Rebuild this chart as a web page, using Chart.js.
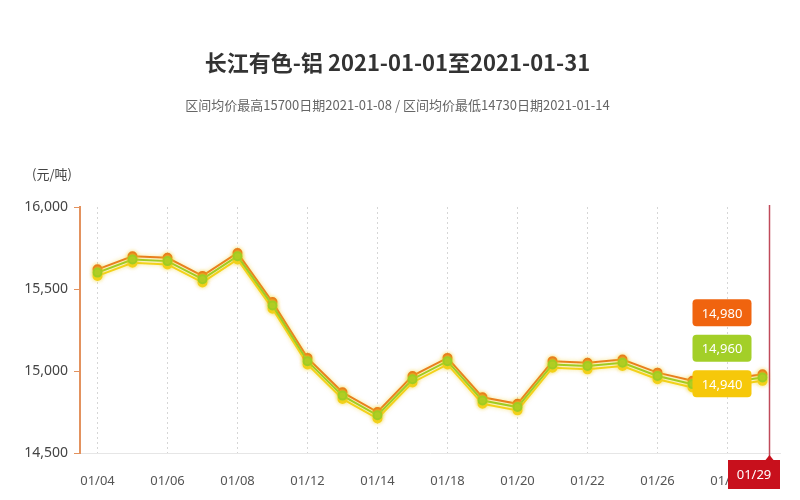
<!DOCTYPE html>
<html>
<head>
<meta charset="utf-8">
<script src="https://cdn.jsdelivr.net/npm/chart.js@4/dist/chart.umd.min.js"></script>
<style>
  html, body { margin: 0; padding: 0; background: #fff; }
  #wrap { width: 800px; height: 500px; }
</style>
</head>
<body>
<div id="wrap"><canvas id="AluminiumChart"></canvas></div>
<script>
const days = ['01/04', '01/05', '01/06', '01/07', '01/08', '01/11', '01/12', '01/13', '01/14', '01/15',
  '01/18', '01/19', '01/20', '01/21', '01/22', '01/25', '01/26', '01/27', '01/28', '01/29']
const highPrice = [15620, 15700, 15690, 15580, 15720, 15420, 15080, 14870, 14750, 14970,
  15080, 14840, 14800, 15060, 15050, 15070, 14990, 14940, 14950, 14980]
const avgPrice = [15600, 15680, 15670, 15560, 15700, 15400, 15060, 14850, 14730, 14950,
  15060, 14820, 14780, 15040, 15030, 15050, 14970, 14920, 14930, 14960]
const lowPrice = [15580, 15660, 15650, 15540, 15680, 15380, 15040, 14830, 14710, 14930,
  15040, 14800, 14760, 15020, 15010, 15030, 14950, 14900, 14910, 14940]
const yTicks = [14500, 15000, 15500, 16000]

const font = '"Noto Sans", "Noto Sans CJK SC", sans-serif'
const cjkFont = '"Noto Sans CJK SC", "Noto Sans", sans-serif'

// crosshair + value tags on the last trading day
const overlayPlugin = {
  id: 'overlay',
  beforeDatasetsDraw(chart) {
    const ctx = chart.ctx
    ctx.save()
    ctx.shadowColor = 'rgba(240, 210, 40, 0.6)'
    ctx.shadowBlur = 4
  },
  afterDatasetsDraw(chart) {
    chart.ctx.restore()
  },
  afterDraw(chart) {
    const ctx = chart.ctx
    const area = chart.chartArea
    const x = chart.scales.x
    const y = chart.scales.y
    const last = days.length - 1
    const px = x.getPixelForValue(last)

    ctx.save()
    // unit
    ctx.fillStyle = '#444'
    ctx.font = '13px ' + cjkFont
    ctx.textAlign = 'left'
    ctx.textBaseline = 'middle'
    ctx.fillText('(元/吨)', 32, area.top - 33)

    // vertical crosshair
    ctx.strokeStyle = '#c04a5a'
    ctx.lineWidth = 1.5
    ctx.beginPath()
    ctx.moveTo(px + 7, area.top - 2)
    ctx.lineTo(px + 7, area.bottom + 4)
    ctx.stroke()

    // value tags
    const tags = [
      { v: highPrice[last], bg: '#f0640f' },
      { v: avgPrice[last], bg: '#a3cf28' },
      { v: lowPrice[last], bg: '#f6c80a' }
    ]
    const baseY = y.getPixelForValue(lowPrice[last]) + 3
    ctx.font = '13px ' + font
    ctx.textAlign = 'center'
    tags.forEach((t, i) => {
      const cy = baseY - (2 - i) * 35.5
      const w = 59, h = 27
      const bx = px - 70
      ctx.fillStyle = t.bg
      ctx.beginPath()
      ctx.roundRect(bx, cy - h / 2, w, h, 4)
      ctx.fill()
      ctx.fillStyle = '#fff'
      ctx.fillText(t.v.toLocaleString('en-US'), bx + w / 2, cy + 1)
    })

    // date tag at the bottom
    const dw = 52, dh = 29
    const dx = Math.min(px + 7 + dw / 2, area.right) - dw
    const dy = area.bottom + 7
    ctx.fillStyle = '#c8101c'
    ctx.beginPath()
    ctx.moveTo(px + 3, dy)
    ctx.lineTo(px + 7, dy - 5)
    ctx.lineTo(px + 11, dy)
    ctx.fill()
    ctx.fillRect(dx, dy, dw, dh)
    ctx.fillStyle = '#fff'
    ctx.fillText(days[last], dx + dw / 2, dy + dh / 2 + 1)
    ctx.restore()
  }
}

function makeSet(label, data, color) {
  return {
    label: label,
    data: data,
    borderColor: color,
    backgroundColor: color,
    pointBackgroundColor: color,
    pointBorderColor: color,
    borderWidth: 2,
    pointRadius: 4,
    tension: 0,
    fill: false
  }
}

// first dataset is drawn on top
new Chart(document.getElementById('AluminiumChart'), {
  type: 'line',
  data: {
    labels: days,
    datasets: [
      makeSet('均价', avgPrice, '#9fcc22'),
      makeSet('最高价', highPrice, '#e8781e'),
      makeSet('最低价', lowPrice, '#f3d21a')
    ]
  },
  plugins: [overlayPlugin],
  options: {
    responsive: true,
    maintainAspectRatio: false,
    animation: false,
    layout: { padding: { left: 15, right: 20, top: 0, bottom: 0 } },
    plugins: {
      legend: { display: false },
      tooltip: { enabled: false },
      title: {
        display: true,
        text: '长江有色-铝 2021-01-01至2021-01-31',
        color: '#333',
        font: { family: cjkFont, size: 22, weight: 'bold' },
        padding: { top: 49, bottom: 16 }
      },
      subtitle: {
        display: true,
        text: '区间均价最高15700日期2021-01-08 / 区间均价最低14730日期2021-01-14',
        color: '#666',
        font: { family: cjkFont, size: 13 },
        padding: { top: 6, bottom: 94 }
      }
    },
    scales: {
      x: {
        offset: true,
        border: { display: true, color: '#e6e6e6', width: 1, dash: [2, 3] },
        grid: {
          offset: false,
          drawTicks: false,
          color: (c) => (c.index % 2 === 0 ? '#d6d6d6' : 'rgba(0,0,0,0)'),
          lineWidth: 1
        },
        ticks: {
          autoSkip: false,
          maxRotation: 0,
          padding: 20,
          color: '#555',
          font: { family: font, size: 13 },
          callback: function (value, index) {
            if (index === days.length - 1) return ''
            return index % 2 === 0 ? days[index] : ''
          }
        },
        afterFit(scale) { scale.height = 47 }
      },
      y: {
        min: 14500,
        max: 16000,
        afterBuildTicks(scale) { scale.ticks = yTicks.map((v) => ({ value: v })) },
        border: { display: true, color: '#e3925e', width: 2 },
        grid: {
          drawOnChartArea: false,
          tickLength: 6,
          tickColor: '#e3925e'
        },
        ticks: {
          padding: 6,
          color: '#444',
          font: { family: font, size: 14 },
          callback: (v) => v.toLocaleString('en-US')
        },
        afterFit(scale) { scale.width = 65 }
      }
    }
  }
})
</script>
</body>
</html>
